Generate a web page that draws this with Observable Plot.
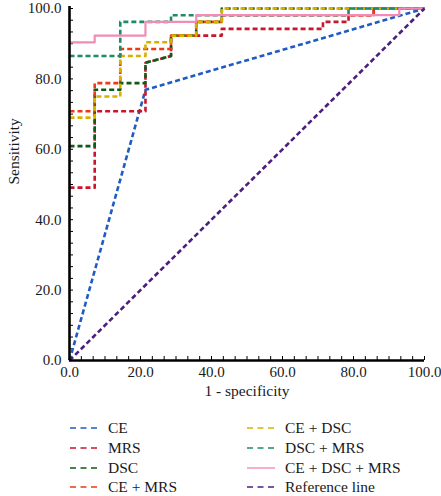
<!DOCTYPE html>
<html>
<head>
<meta charset="utf-8">
<script src="https://cdn.jsdelivr.net/npm/d3@7"></script>
<script src="https://cdn.jsdelivr.net/npm/@observablehq/plot@0.6"></script>
<style>
  html, body { margin: 0; padding: 0; background: #fff; }
  #wrap { position: relative; width: 441px; height: 496px; overflow: hidden; }
  svg text { font-family: "Liberation Serif", "Times New Roman", serif; }
</style>
</head>
<body>
<div id="wrap"></div>
<script>
// ---- data (1 - specificity, sensitivity), percent ----
const CE      = [[0,0],[21.4,76.9],[100,100]];
const MRS     = [[0,49.1],[7.1,49.1],[7.1,70.8],[21.4,70.8],[21.4,84.6],[28.6,86.5],[28.6,92.3],[42.9,92.3],[42.9,94.2],[71.4,94.2],[71.4,96.2],[78.6,96.2],[78.6,98.1],[85.7,98.1],[85.7,100],[100,100]];
const DSC     = [[0,60.9],[7.1,60.9],[7.1,76.9],[14.3,76.9],[14.3,78.8],[21.4,78.8],[21.4,84.6],[28.6,86.5],[28.6,92.3],[35.7,92.3],[35.7,96.2],[42.9,96.2],[42.9,100],[100,100]];
const CE_MRS  = [[0,70.8],[7.1,70.8],[7.1,78.8],[14.3,78.8],[14.3,88.5],[28.6,88.5],[28.6,92.3],[35.7,92.3],[35.7,96.2],[42.9,96.2],[42.9,98.1],[85.7,98.1],[85.7,100],[100,100]];
const CE_DSC  = [[0,69.0],[7.1,69.0],[7.1,75.0],[14.3,75.0],[14.3,86.5],[21.4,86.5],[21.4,90.4],[28.6,90.4],[28.6,92.3],[35.7,92.3],[35.7,96.2],[42.9,96.2],[42.9,100],[100,100]];
const DSC_MRS = [[0,86.5],[14.3,86.5],[14.3,96.2],[28.6,96.2],[28.6,98.1],[78.6,98.1],[78.6,100],[100,100]];
const ALL3    = [[0,90.4],[7.1,90.4],[7.1,92.3],[21.4,92.3],[21.4,96.2],[35.7,96.2],[35.7,98.1],[92.9,98.1],[92.9,100],[100,100]];
const REF     = [[0,0],[100,100]];

const seriesNames  = ["CE","MRS","DSC","CE + MRS","CE + DSC","DSC + MRS","CE + DSC + MRS","Reference line"];
const seriesData   = [CE, MRS, DSC, CE_MRS, CE_DSC, DSC_MRS, ALL3, REF];
const seriesColors = ["#1f5cc2","#c8162c","#0e5a16","#ec3a16","#d6b200","#1f8a66","#f28cb6","#4c1e7e"];
const seriesDash   = ["5,3","5,3","5,3","5,3","5,3","5,3",null,"5,3"];

const majorTicks = [0,20,40,60,80,100];
const minorTicks = d3.range(0, 31).map(i => i * 100 / 30);

const W = 441, H = 410, mL = 69, mR = 17, mT = 8, mB = 50;
const plotH = H - mT - mB, plotW = W - mL - mR;

const lineMarks = seriesData.map((pts, i) => Plot.line(pts.map(([x, y]) => ({x, y})), {
  x: "x", y: "y",
  stroke: seriesColors[i],
  strokeWidth: seriesDash[i] ? 2.6 : 2.2,
  strokeDasharray: seriesDash[i] || undefined,
  strokeLinecap: "butt"
}));

const chart = Plot.plot({
  width: W, height: H,
  marginLeft: mL, marginRight: mR, marginTop: mT, marginBottom: mB,
  x: {domain: [0, 100]},
  y: {domain: [0, 100]},
  style: {fontFamily: "'Liberation Serif', serif", fontSize: "15px", color: "#1a1a1a", background: "#fff"},
  marks: [
    Plot.axisX(majorTicks, {tickSize: 0, tickPadding: 6, tickFormat: d => d.toFixed(1), label: null, fontSize: 15}),
    Plot.axisY(majorTicks, {tickSize: 0, tickPadding: 8, tickFormat: d => d.toFixed(1), label: null, fontSize: 15}),
    Plot.tickX(minorTicks, {x: d => d, insetTop: plotH - 4, stroke: "#000", strokeWidth: 1}),
    Plot.tickY(minorTicks, {y: d => d, insetRight: plotW - 4, stroke: "#000", strokeWidth: 1}),
    ...lineMarks,
    Plot.ruleX([0], {stroke: "#000", strokeWidth: 2.6, insetTop: -2}),
    Plot.ruleY([0], {stroke: "#000", strokeWidth: 2.6}),
    Plot.text(["1 - specificity"], {frameAnchor: "bottom", dy: 35, fontSize: 15.5, fill: "#1a1a1a"}),
    Plot.text(["Sensitivity"], {frameAnchor: "left", dx: -55, rotate: -90, fontSize: 15.5, fill: "#1a1a1a"})
  ]
});

const wrap = document.getElementById("wrap");
wrap.appendChild(chart);

// ---- legend (below the plot SVG) ----
const legH = 496 - H;
const leg = d3.select(wrap).append("svg")
  .attr("width", W).attr("height", legH)
  .style("display", "block");
const colX = [[70, 97, 108], [247, 275, 285]];
const rowY = [18, 38, 58, 77];
seriesNames.forEach((name, i) => {
  const c = Math.floor(i / 4), r = i % 4;
  const [x1, x2, tx] = colX[c];
  const y = rowY[r];
  leg.append("line")
    .attr("x1", x1).attr("x2", x2).attr("y1", y).attr("y2", y)
    .attr("stroke", seriesColors[i]).attr("stroke-width", 1.4)
    .attr("stroke-dasharray", seriesDash[i] ? "6,4.5" : null);
  leg.append("text")
    .attr("x", tx).attr("y", y).attr("dy", "0.35em")
    .attr("font-size", 15.5).attr("fill", "#1a1a1a")
    .text(name);
});
</script>
</body>
</html>
